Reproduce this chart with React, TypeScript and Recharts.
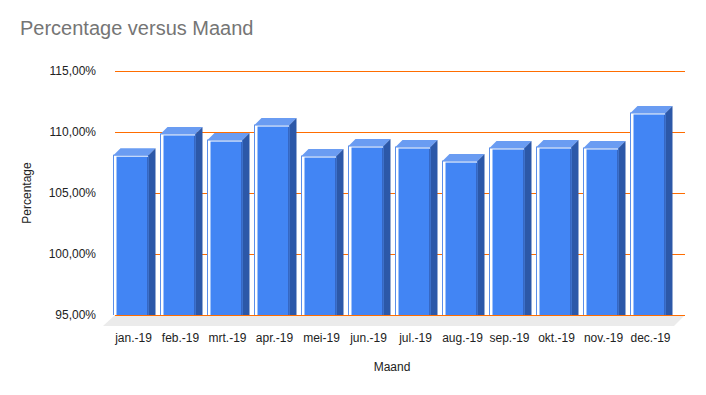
import { BarChart, Bar, XAxis, YAxis, CartesianGrid } from 'recharts';

const months = ['jan.-19', 'feb.-19', 'mrt.-19', 'apr.-19', 'mei-19', 'jun.-19', 'jul.-19', 'aug.-19', 'sep.-19', 'okt.-19', 'nov.-19', 'dec.-19'];
const percentages = [108.1, 109.84, 109.34, 110.57, 108.03, 108.85, 108.77, 107.62, 108.69, 108.77, 108.69, 111.56];
const yTicks = [95, 100, 105, 110, 115];

const data = months.map((month, i) => ({ month, percentage: percentages[i] }));

const FONT = '"Liberation Sans", Arial, sans-serif';
const DEPTH = 7;
const FLOOR = 11;

function Bar3D(props: any) {
  const { x, y, width, height } = props;
  const X = x + 0.5;
  const front = width - DEPTH;
  const top = y;
  const bottom = y + height + FLOOR;
  return (
    <g>
      <rect x={X} y={top} width={front} height={bottom - top} fill="#ffffff" stroke="#5b8fe8" strokeWidth={1} />
      <rect x={X + 3} y={top + 1.5} width={front - 3} height={bottom - top - 1.5} fill="#4285f4" />
      <line x1={X + front - 1} y1={top + 2} x2={X + front - 1} y2={bottom} stroke="#3567c4" strokeWidth={1} />
      <polygon
        points={`${X},${top} ${X + DEPTH},${top - DEPTH} ${X + width},${top - DEPTH} ${X + front},${top}`}
        fill="#6a9cf2"
      />
      <polygon
        points={`${X + front},${top} ${X + width},${top - DEPTH} ${X + width},${bottom} ${X + front},${bottom}`}
        fill="#2c58a8"
      />
    </g>
  );
}

function GridLine(props: any) {
  const { x1, x2, y1, index } = props;
  const left = x1 + 5;
  const right = x2 + FLOOR;
  const ly = Math.round(y1) + 0.5;
  return (
    <g key={`g-${index}`}>
      {index === 0 && (
        <polygon
          points={`${left},${y1} ${right},${y1} ${right - FLOOR},${y1 + FLOOR} ${left - FLOOR - 1},${y1 + FLOOR}`}
          fill="#ebebeb"
        />
      )}
      <line x1={left} y1={ly} x2={right} y2={ly} stroke="#ff6d00" strokeWidth={1} />
    </g>
  );
}

export default function App() {
  return (
    <div style={{ position: 'absolute', left: 0, top: 0, width: 706, height: 395, background: '#fff', fontFamily: FONT }}>
      <div style={{ position: 'absolute', left: 20, top: 17, fontSize: 20, color: '#757575', whiteSpace: 'nowrap' }}>
        Percentage versus Maand
      </div>
      <BarChart width={706} height={395} data={data} margin={{ top: 71, right: 32, bottom: 50, left: 0 }}>
        <CartesianGrid vertical={false} horizontal={GridLine} />
        <XAxis
          dataKey="month"
          height={30}
          axisLine={false}
          tickLine={false}
          tickSize={0}
          tickMargin={18}
          interval={0}
          tick={{ fill: '#222222', fontSize: 12, fontFamily: FONT }}
          label={{ value: 'Maand', position: 'bottom', offset: 17, fill: '#222222', fontSize: 12, fontFamily: FONT }}
        />
        <YAxis
          width={110}
          domain={[95, 115]}
          ticks={yTicks}
          allowDataOverflow
          axisLine={false}
          tickLine={false}
          tickSize={0}
          tickMargin={14}
          tickFormatter={(v: number) => `${v.toFixed(2).replace('.', ',')}%`}
          tick={{ fill: '#222222', fontSize: 12, fontFamily: FONT }}
          label={{ value: 'Percentage', angle: -90, position: 'insideLeft', offset: 27, fill: '#222222', fontSize: 12, fontFamily: FONT, style: { textAnchor: 'middle' } }}
        />
        <Bar dataKey="percentage" barSize={42} shape={Bar3D} isAnimationActive={false} />
      </BarChart>
    </div>
  );
}
